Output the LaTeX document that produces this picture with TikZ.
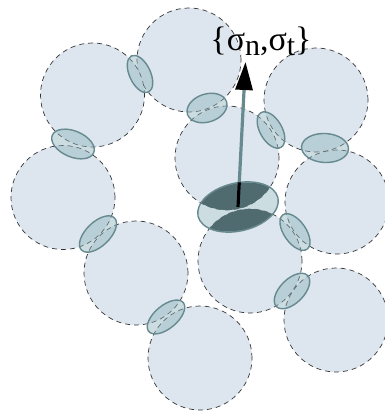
\documentclass[tikz,border=0pt]{standalone}
\usepackage{xcolor}
\usepackage{fontspec}
\usepackage{tikz}
\usetikzlibrary{arrows.meta, shapes.geometric, calc}
\newfontfamily\labelfont{Liberation Serif}
\definecolor{grainfill}{HTML}{DDE6EE}
\definecolor{contactline}{HTML}{668A90}
\definecolor{contactfill}{HTML}{8FB3BD}
\definecolor{contactdark}{HTML}{4F6B70}

\begin{document}
\begin{tikzpicture}[
    x=1pt, y=-1pt,
    grain/.style={circle, draw=black!80, dash pattern=on 5pt off 4pt, fill=grainfill, line width=0.7pt,
                  minimum size=104pt, inner sep=0pt},
    contact/.style={ellipse, draw=contactline, fill=contactfill, fill opacity=0.45,
                    line width=1.4pt, inner sep=0pt},
    arrow/.style={-{Triangle[length=28pt, width=17pt, color=black]}, line width=3.2pt}
]
  \useasboundingbox (0,0) rectangle (384,412);

  % grains
  \node[grain] (top) at (189,60) {};
  \node[grain] (upleft) at (92.5,95) {};
  \node[grain] (left) at (63,197.5) {};
  \node[grain] (lowleft) at (136,273) {};
  \node[grain] (bottom) at (200,358) {};
  \node[grain] (lowmid) at (250,261) {};
  \node[grain] (lowright) at (336,320) {};
  \node[grain] (right) at (337,202) {};
  \node[grain] (upright) at (316,100) {};
  \node[grain] (mid) at (227,158) {};

  % contacts
  \node[contact, minimum width=40pt, minimum height=21pt, rotate=-65] (c1) at (140,74) {};
  \node[contact, minimum width=45pt, minimum height=26pt, rotate=-23] (c2) at (73,144) {};
  \node[contact, minimum width=46pt, minimum height=24pt, rotate=44] (c3) at (98,234) {};
  \node[contact, minimum width=45pt, minimum height=23pt, rotate=40] (c4) at (166,317) {};
  \node[contact, minimum width=41pt, minimum height=28pt, rotate=18] (c5) at (207,108) {};
  \node[contact, minimum width=40pt, minimum height=22pt, rotate=-60] (c6) at (271,130) {};
  \node[contact, minimum width=47pt, minimum height=29pt, rotate=-3] (c7) at (325,148) {};
  \node[contact, minimum width=42pt, minimum height=22pt, rotate=-55] (c8) at (295,232) {};
  \node[contact, minimum width=44pt, minimum height=24pt, rotate=45] (c9) at (292,291) {};

  % loaded contact
  \node[contact, minimum width=82pt, minimum height=48pt, rotate=13] (load) at (238,207) {};
  \begin{scope}
    \clip (238,207) circle [x radius=40.3pt, y radius=23.3pt, rotate=13];
    \fill[contactdark] (mid.center) circle (52pt);
    \fill[contactdark] (lowmid.center) circle (52pt);
  \end{scope}

  \node (stress) at (261,41.5) {\labelfont\fontsize{34}{34}\selectfont\{σ\raisebox{-5pt}{\fontsize{30}{30}\selectfont n},σ\raisebox{-5pt}{\fontsize{30}{30}\selectfont t}\}};
  \coordinate (tip) at (245.5,62);

  \draw[arrow, contactline] (load.center) -- (tip);
  \draw[line width=3.2pt, black] (load.center) -- ($(load.center)!0.17!(tip)$);
\end{tikzpicture}
\end{document}
